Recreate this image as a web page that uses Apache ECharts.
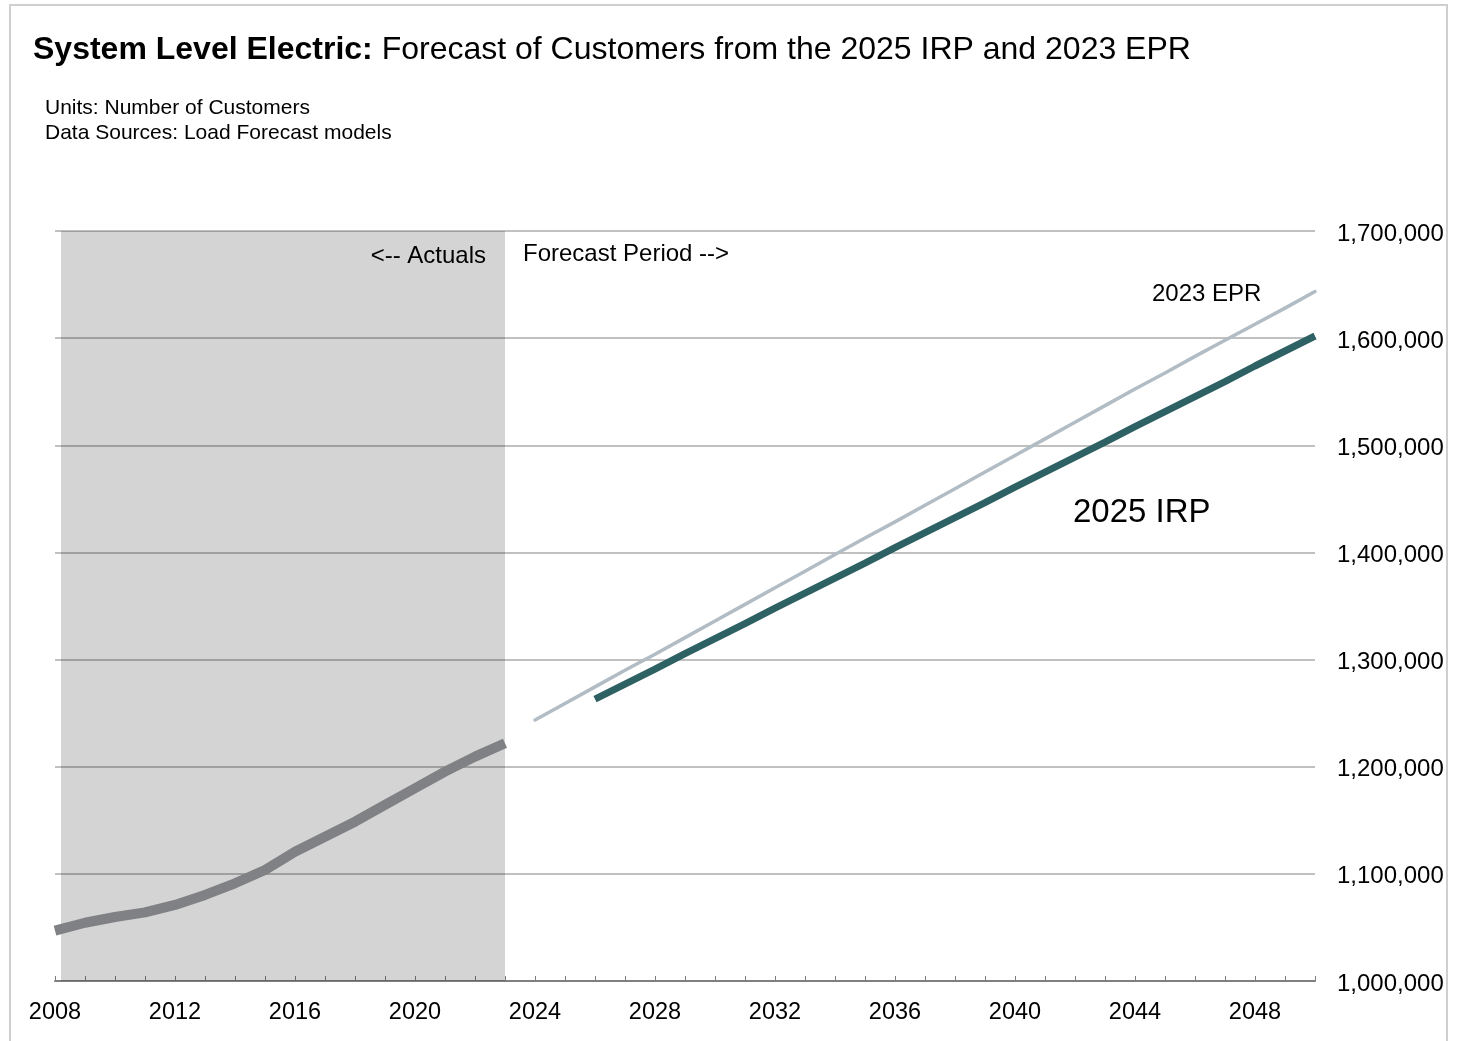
<!DOCTYPE html>
<html>
<head>
<meta charset="utf-8">
<script src="https://cdn.jsdelivr.net/npm/echarts@6/dist/echarts.min.js"></script>
<style>
html,body{margin:0;padding:0;background:#fff;}
#chart{width:1463px;height:1041px;}
</style>
</head>
<body>
<div id="chart"></div>
<script>
// ---- data ----
const actualYears = [2008,2009,2010,2011,2012,2013,2014,2015,2016,2017,2018,2019,2020,2021,2022,2023];
const actualValues = [1047000,1054400,1059700,1064100,1071000,1080300,1091200,1103600,1120700,1134700,1148700,1164300,1179900,1195400,1209400,1221900];

const epr2023Years = [2024,2025,2026,2027,2028,2029,2030,2031,2032,2033,2034,2035,2036,2037,2038,2039,2040,2041,2042,2043,2044,2045,2046,2047,2048,2049,2050];
const epr2023Values = [1243600,1259000,1274500,1290000,1305000,1320500,1336000,1351500,1367000,1382500,1398000,1413500,1428500,1444000,1459500,1475000,1490500,1506000,1521500,1537000,1552500,1567500,1583000,1598000,1613000,1628000,1643500];

const irp2025Years = [2026,2027,2028,2029,2030,2031,2032,2033,2034,2035,2036,2037,2038,2039,2040,2041,2042,2043,2044,2045,2046,2047,2048,2049,2050];
const irp2025Values = [1263000,1277000,1291000,1305500,1319500,1333500,1348000,1362000,1376000,1390000,1404500,1418500,1432500,1446500,1461000,1475000,1489000,1503000,1517500,1531500,1545500,1559500,1574000,1588000,1602000];

const actualsPeriod = [2008.2, 2023];
const xLabelYears = [2008,2012,2016,2020,2024,2028,2032,2036,2040,2044,2048];

const titleBold = 'System Level Electric:';
const titleRest = ' Forecast of Customers from the 2025 IRP and 2023 EPR';
const subtitleLines = ['Units: Number of Customers', 'Data Sources: Load Forecast models'];

const pair = (xs, ys) => xs.map((x, i) => [x, ys[i]]);
const FONT = '"Liberation Sans", Arial, sans-serif';

const chart = echarts.init(document.getElementById('chart'));
chart.setOption({
  animation: false,
  backgroundColor: '#fff',
  textStyle: { fontFamily: FONT },
  title: {
    left: 33, top: 34, padding: 0,
    text: '{b|' + titleBold + '}{n|' + titleRest + '}',
    textStyle: {
      rich: {
        b: { fontFamily: FONT, fontWeight: 'bold', fontSize: 32, color: '#000' },
        n: { fontFamily: FONT, fontWeight: 'normal', fontSize: 32, color: '#000' }
      }
    }
  },
  graphic: [
    { type: 'rect', shape: { x: 10, y: 5, width: 1437, height: 1050 }, style: { fill: 'none', stroke: '#cfcfcf', lineWidth: 2 }, z: -10 },
    { type: 'text', left: 45, top: 96, style: { text: subtitleLines.join('\n'), fontFamily: FONT, fontSize: 21, lineHeight: 25, fill: '#000' } },
    { type: 'text', right: 1463 - 486, top: 244, style: { text: '<-- Actuals', fontFamily: FONT, fontSize: 24, fill: '#000' } },
    { type: 'text', left: 523, top: 242, style: { text: 'Forecast Period -->', fontFamily: FONT, fontSize: 24, fill: '#000' } },
    { type: 'text', left: 1152, top: 282, style: { text: '2023 EPR', fontFamily: FONT, fontSize: 24, fill: '#000' } },
    { type: 'text', left: 1073, top: 496, style: { text: '2025 IRP', fontFamily: FONT, fontSize: 33, fill: '#000' } }
  ],
  grid: { left: 55, right: 148, top: 231, bottom: 60, containLabel: false },
  xAxis: {
    type: 'value', min: 2008, max: 2050, interval: 1,
    axisLine: { show: true, lineStyle: { color: '#7f7f7f', width: 2 } },
    axisTick: { show: true, inside: true, length: 5, lineStyle: { color: '#7f7f7f', width: 1 } },
    splitLine: { show: false },
    axisLabel: {
      margin: 20, fontSize: 23.5, color: '#000', fontFamily: FONT,
      formatter: v => xLabelYears.indexOf(v) >= 0 ? String(v) : ''
    }
  },
  yAxis: {
    type: 'value', position: 'right', min: 1000000, max: 1700000, interval: 100000,
    axisLine: { show: false }, axisTick: { show: false },
    splitLine: { show: true, lineStyle: { color: '#c0c0c0', width: 2 } },
    axisLabel: {
      margin: 22, color: '#000', fontFamily: FONT,
      formatter: v => '{a|' + v.toLocaleString('en-US') + '}',
      rich: { a: { fontSize: 24, fontFamily: FONT, color: '#000', padding: [6, 0, 0, 0] } }
    }
  },
  series: [
    {
      name: 'Actuals', type: 'line', data: pair(actualYears, actualValues),
      showSymbol: false, symbol: 'none',
      lineStyle: { color: '#808184', width: 10, cap: 'butt', join: 'round' },
      z: 3,
      markArea: {
        silent: true,
        itemStyle: { color: 'rgba(0,0,0,0.17)' },
        data: [[{ coord: [actualsPeriod[0], 1000000] }, { coord: [actualsPeriod[1], 1700000] }]]
      }
    },
    {
      name: '2023 EPR', type: 'line', data: pair(epr2023Years, epr2023Values),
      showSymbol: false, symbol: 'none',
      lineStyle: { color: '#b1bcc4', width: 3.5, cap: 'round' }, z: 3
    },
    {
      name: '2025 IRP', type: 'line', data: pair(irp2025Years, irp2025Values),
      showSymbol: false, symbol: 'none',
      lineStyle: { color: '#2e6164', width: 7, cap: 'butt' }, z: 4
    }
  ]
});
</script>
</body>
</html>
